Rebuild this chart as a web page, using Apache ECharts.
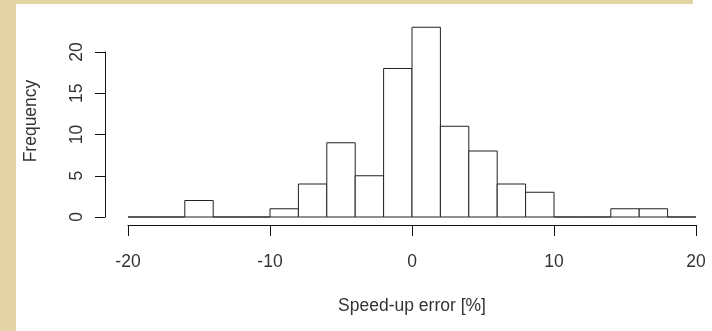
<!DOCTYPE html>
<html>
<head>
<meta charset="utf-8">
<script src="https://cdn.jsdelivr.net/npm/echarts@6/dist/echarts.min.js"></script>
<style>
  html, body { margin: 0; padding: 0; background: #fff; }
  #wrap { position: relative; width: 712px; height: 331px; overflow: hidden; }
  .edge { position: absolute; background: #e3d4a5; }
  #chart { position: absolute; left: 0; top: 0; width: 712px; height: 331px; }
</style>
</head>
<body>
<div id="wrap">
  <div class="edge" style="left:0;top:0;width:16px;height:331px"></div>
  <div class="edge" style="left:0;top:0;width:693px;height:4px"></div>
  <div id="chart"></div>
</div>
<script>
// histogram bins (width 2) and counts
var binStart = [-20, -18, -16, -14, -12, -10, -8, -6, -4, -2, 0, 2, 4, 6, 8, 10, 12, 14, 16, 18];
var binEnd = [-18, -16, -14, -12, -10, -8, -6, -4, -2, 0, 2, 4, 6, 8, 10, 12, 14, 16, 18, 20];
var counts = [0, 0, 2, 0, 0, 1, 4, 9, 5, 18, 23, 11, 8, 4, 3, 0, 0, 1, 1, 0];
var xTicks = [-20, -10, 0, 10, 20];
var yTicks = [0, 5, 10, 15, 20];

var textColor = '#333',
  fontSize = 17.5,
  font = '"Liberation Sans", Arial, sans-serif';

function renderBin(params, api) {
  var p0 = api.coord([api.value(0), api.value(2)]),
    p1 = api.coord([api.value(1), 0]);
  return {
    type: 'rect',
    shape: { x: p0[0], y: p0[1], width: p1[0] - p0[0], height: p1[1] - p0[1] },
    style: { fill: '#fff', stroke: '#222', lineWidth: 1 }
  };
}

var myChart = echarts.init(document.getElementById('chart'), null, { renderer: 'canvas' });
var option = {
  animation: false,
  textStyle: { fontFamily: font },
  grid: { left: 128, right: 16, top: 52, bottom: 114 },
  xAxis: {
    type: 'value',
    min: xTicks[0],
    max: xTicks[xTicks.length - 1],
    interval: 10,
    offset: 8,
    name: 'Speed-up error [%]',
    nameLocation: 'middle',
    nameGap: 72,
    nameTextStyle: { color: textColor, fontSize: fontSize, fontFamily: font },
    axisLine: { onZero: false, lineStyle: { color: '#111', width: 1 } },
    axisTick: { length: 11, lineStyle: { color: '#111' } },
    axisLabel: { color: textColor, fontSize: fontSize, fontFamily: font, margin: 28 },
    splitLine: { show: false }
  },
  yAxis: {
    type: 'value',
    min: yTicks[0],
    max: yTicks[yTicks.length - 1],
    interval: 5,
    offset: 23,
    axisLine: { show: true, onZero: false, lineStyle: { color: '#111', width: 1 } },
    axisTick: { show: true, length: 10, lineStyle: { color: '#111' } },
    axisLabel: { color: textColor, fontSize: fontSize, fontFamily: font, rotate: 90, margin: 19 },
    splitLine: { show: false }
  },
  graphic: [{
    type: 'text',
    x: 31,
    y: 121,
    rotation: Math.PI / 2,
    style: {
      text: 'Frequency',
      fill: textColor,
      font: fontSize + 'px ' + font,
      align: 'center',
      verticalAlign: 'middle'
    }
  }],
  series: [{
    type: 'custom',
    clip: false,
    renderItem: renderBin,
    encode: { x: [0, 1], y: 2 },
    data: counts.map(function (c, i) { return [binStart[i], binEnd[i], c]; })
  }]
};
myChart.setOption(option);
</script>
</body>
</html>
